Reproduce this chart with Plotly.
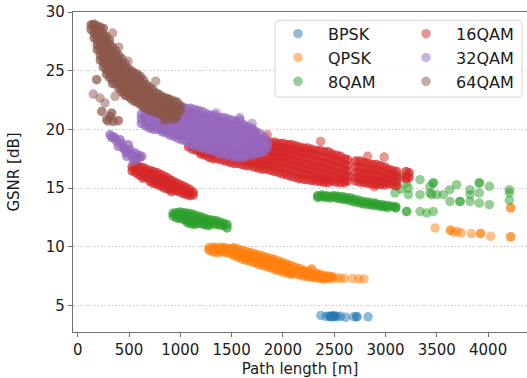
import plotly.graph_objects as go

# ---------------- data ----------------
# dense bands: (x, [y values]) columns ; sparse points: x / y lists
BPSK_X = [2370, 2420, 2450, 2460, 2470, 2480, 2490, 2500, 2510, 2530, 2560, 2610, 2690, 2720, 2720, 2830]
BPSK_Y = [4.14, 4.06, 4.10, 4.04, 4.02, 4.10, 4.09, 4.03, 4.12, 4.04, 4.07, 3.98, 4.03, 4.05, 4.01, 4.02]

QPSK_BAND = [
    (1280, [9.9, 9.7]), (1320, [9.95, 9.75, 9.55]), (1360, [9.9, 9.7, 9.5]),
    (1400, [9.95, 9.75, 9.55]), (1440, [9.9, 9.7, 9.5]), (1480, [9.85, 9.65, 9.45]),
    (1520, [9.9, 9.7, 9.45, 9.25]), (1560, [9.8, 9.55, 9.3, 9.1]), (1600, [9.7, 9.45, 9.2, 8.95]),
    (1640, [9.6, 9.35, 9.1, 8.85]), (1680, [9.5, 9.25, 9.0, 8.75]), (1720, [9.4, 9.15, 8.9, 8.65]),
    (1760, [9.3, 9.05, 8.8, 8.5]), (1800, [9.2, 8.95, 8.7, 8.4]), (1840, [9.1, 8.85, 8.6, 8.3]),
    (1880, [9.0, 8.75, 8.45, 8.2]), (1920, [8.9, 8.6, 8.3, 8.05]), (1960, [8.75, 8.5, 8.2, 7.95]),
    (2000, [8.65, 8.35, 8.05, 7.85]), (2040, [8.5, 8.2, 7.95, 7.75]), (2080, [8.4, 8.1, 7.85, 7.65]),
    (2120, [8.25, 7.95, 7.7]), (2160, [8.15, 7.85, 7.6]), (2200, [8.0, 7.75, 7.5]),
    (2240, [7.9, 7.65, 7.45]), (2280, [8.1, 7.75, 7.5, 7.4]), (2320, [7.75, 7.55, 7.35]),
    (2360, [7.65, 7.45, 7.3]), (2400, [7.55, 7.4, 7.25]), (2440, [7.5, 7.3]), (2480, [7.45, 7.3]),
]
QPSK_X = [2530, 2560, 2600, 2680, 2740, 2790, 3483, 3633, 3633, 3666, 3700, 3738, 3836,
          3927, 3927, 4025, 4220, 4220, 4220, 4220]
QPSK_Y = [7.35, 7.28, 7.3, 7.28, 7.25, 7.25, 11.6, 11.4, 11.4, 11.23, 11.3, 11.18, 11.12,
          11.12, 11.12, 10.89, 10.84, 10.84, 13.31, 13.31]

QAM8_BAND = [
    (930, [12.85, 12.6]), (965, [12.9, 12.65, 12.45]), (1000, [12.95, 12.7, 12.4]),
    (1035, [12.9, 12.6, 12.3]), (1070, [12.85, 12.55, 12.25, 12.05]), (1105, [12.8, 12.5, 12.2, 11.95]),
    (1140, [12.7, 12.4, 12.1, 11.9]), (1175, [12.6, 12.3, 12.0]), (1210, [12.5, 12.2, 11.95]),
    (1245, [12.4, 12.1, 11.85]), (1280, [12.3, 12.0, 11.8]), (1315, [12.25, 11.95]),
    (1350, [12.2, 11.9]), (1385, [12.1, 11.85]), (1420, [12.0, 11.8]), (1455, [11.9, 11.6]),
    (2340, [14.35, 14.2]), (2380, [14.4, 14.25]), (2420, [14.35, 14.2]), (2460, [14.3, 14.15]),
    (2500, [14.35, 14.2]), (2540, [14.3, 14.1]), (2580, [14.25, 14.05]), (2620, [14.2, 14.0]),
    (2660, [14.15, 13.9]), (2700, [14.05, 13.8]), (2740, [13.95, 13.75]), (2780, [13.85, 13.65]),
    (2820, [13.8, 13.6]), (2860, [13.75, 13.55]), (2900, [13.7, 13.5]), (2940, [13.6, 13.45]),
    (2980, [13.55, 13.4]), (3020, [13.5, 13.35]), (3060, [13.45]), (3100, [13.4, 13.3]),
]
QAM8_X = [3092, 3092, 3092, 3150, 3150, 3206, 3206, 3206, 3222, 3222, 3110, 3336, 3336, 3336,
          3433, 3433, 3466, 3466, 3466, 3450, 3401, 3499, 3563, 3628, 3628, 3694, 3726, 3726,
          3824, 3824, 3824, 3914, 3914, 3914, 3914, 4012, 4012, 4207, 4207, 4207]
QAM8_Y = [15.57, 15.2, 14.58, 15.9, 14.9, 15.43, 13.0, 13.0, 14.43, 15.0, 16.1, 15.71, 14.43, 13.0,
          15.14, 14.58, 15.43, 15.43, 13.0, 14.43, 12.87, 14.43, 14.43, 14.86, 13.86, 15.28, 13.86, 13.86,
          14.86, 14.43, 13.86, 15.43, 15.43, 14.58, 13.72, 15.14, 13.58, 14.86, 14.58, 13.95]

QAM16_BAND = [
    (530, [16.8, 16.45]), (565, [16.95, 16.6, 16.3]), (600, [16.8, 16.45, 16.1]),
    (635, [16.75, 16.4, 16.05, 15.85]), (670, [16.6, 16.25, 15.9]), (705, [16.5, 16.15, 15.8, 15.55]),
    (740, [16.4, 16.05, 15.7, 15.4]), (775, [16.3, 15.95, 15.6, 15.3]), (810, [16.15, 15.8, 15.45, 15.15]),
    (845, [16.0, 15.65, 15.3, 15.0]), (880, [15.85, 15.5, 15.15, 14.9]), (915, [15.65, 15.3, 14.95, 14.7]),
    (950, [15.5, 15.15, 14.8]), (985, [15.35, 15.0, 14.7]), (1020, [15.2, 14.85, 14.55]),
    (1055, [15.05, 14.7, 14.45]), (1090, [14.9, 14.6, 14.35]), (1125, [14.65, 14.4]),
    (1080, [18.5]), (1120, [18.6, 18.3]), (1160, [18.5, 18.2]), (1200, [18.5, 18.1, 17.9]),
    (1240, [18.4, 18.0, 17.8]), (1280, [18.4, 18.0, 17.6]), (1320, [18.3, 17.9, 17.5]),
    (1360, [18.3, 17.9, 17.5]), (1400, [18.2, 17.8, 17.4]), (1440, [18.2, 17.8, 17.3]),
    (1480, [18.1, 17.7, 17.2]), (1520, [18.1, 17.7, 17.1]), (1560, [18.0, 17.6, 17.1]),
    (1600, [18.0, 17.5, 17.0]), (1640, [18.2, 17.8, 17.4, 16.9]),
    (1680, [19.1, 18.6, 18.2, 17.8, 17.3, 16.9]), (1720, [19.0, 18.6, 18.2, 17.7, 17.2, 16.8]),
    (1760, [19.1, 18.7, 18.3, 17.9, 17.5, 17.1, 16.7]), (1800, [19.0, 18.6, 18.2, 17.8, 17.4, 17.0, 16.6]),
    (1840, [19.0, 18.6, 18.2, 17.8, 17.4, 17.0, 16.6]), (1880, [18.9, 18.5, 18.1, 17.7, 17.3, 16.9, 16.5]),
    (1920, [18.9, 18.5, 18.1, 17.7, 17.3, 16.9, 16.4]), (1960, [18.8, 18.4, 18.0, 17.6, 17.2, 16.8, 16.3]),
    (2000, [18.8, 18.4, 18.0, 17.6, 17.2, 16.7, 16.2]), (2040, [18.7, 18.3, 17.9, 17.5, 17.1, 16.6, 16.1]),
    (2080, [18.7, 18.3, 17.9, 17.4, 17.0, 16.5, 16.0]), (2120, [18.6, 18.2, 17.8, 17.3, 16.9, 16.4, 15.9]),
    (2160, [18.5, 18.1, 17.7, 17.2, 16.8, 16.3, 15.8]), (2200, [18.4, 18.0, 17.6, 17.1, 16.7, 16.2, 15.75]),
    (2240, [18.4, 18.0, 17.5, 17.0, 16.6, 16.1, 15.7]), (2280, [18.3, 17.9, 17.4, 16.9, 16.5, 16.0, 15.65]),
    (2320, [18.2, 17.8, 17.3, 16.8, 16.4, 15.9, 15.6]), (2360, [18.2, 17.7, 17.2, 16.8, 16.3, 15.9, 15.55]),
    (2400, [18.1, 17.6, 17.1, 16.7, 16.2, 15.8, 15.5]), (2440, [18.1, 17.6, 17.1, 16.6, 16.1, 15.7, 15.45]),
    (2480, [17.9, 17.4, 16.9, 16.5, 16.0, 15.6]), (2520, [17.8, 17.3, 16.8, 16.3, 15.9, 15.5]),
    (2560, [17.7, 17.2, 16.7, 16.2, 15.8, 15.45]), (2600, [17.5, 17.0, 16.6, 16.1, 15.7, 15.45]),
    (2630, [17.4, 16.9, 16.4, 16.0, 15.6]),
    (2710, [17.3, 16.8, 16.3, 15.9, 15.6]), (2750, [17.3, 16.8, 16.3, 15.9, 15.5]),
    (2790, [17.2, 16.7, 16.2, 15.8, 15.45]), (2830, [17.1, 16.6, 16.2, 15.7, 15.4]),
    (2870, [17.0, 16.6, 16.1, 15.7, 15.35]), (2910, [17.0, 16.5, 16.1, 15.7, 15.3]),
    (2950, [16.9, 16.4, 16.0, 15.6, 15.3]), (2990, [16.8, 16.4, 15.9, 15.5, 15.25]),
    (3030, [16.6, 16.2, 15.8, 15.4]), (3070, [16.5, 16.1, 15.7, 15.3]),
    (3110, [16.4, 16.0, 15.6, 15.2]), (3200, [16.4, 16.0, 15.8]), (3230, [16.3, 15.9]),
]
QAM16_X = [2368, 2825, 2987, 2890, 1618, 1716, 1846]
QAM16_Y = [18.97, 17.7, 17.64, 15.09, 20.25, 19.82, 19.54]

QAM32_BAND = [
    (315, [19.54]), (364, [19.26]), (412, [19.12]), (396, [18.55]), (493, [18.69]),
    (510, [18.27]), (478, [17.7]), (558, [17.99]), (575, [17.56]), (624, [17.7]),
    (542, [17.27]), (444, [18.41]), (526, [17.84]), (345, [19.37]), (607, [17.58]),
    (330, [19.3]), (380, [19.0]), (430, [18.8]), (460, [18.3]), (500, [18.0]),
    (540, [17.6]), (590, [17.8]), (470, [18.05]),
    (620, [21.3, 20.9, 20.5]), (660, [21.4, 21.0, 20.6, 20.3]),
    (700, [21.5, 21.1, 20.7, 20.3, 20.1]), (740, [21.5, 21.1, 20.7, 20.3, 20.0]),
    (780, [21.6, 21.2, 20.8, 20.4, 20.0]), (820, [21.6, 21.2, 20.8, 20.4, 20.0, 19.8]),
    (860, [21.7, 21.3, 20.9, 20.5, 20.1, 19.7]), (900, [21.8, 21.4, 21.0, 20.6, 20.2, 19.8, 19.5]),
    (940, [21.8, 21.4, 21.0, 20.6, 20.2, 19.8, 19.4]),
    (980, [21.9, 21.5, 21.1, 20.7, 20.3, 19.9, 19.5, 19.2]),
    (1020, [21.9, 21.5, 21.1, 20.7, 20.3, 19.9, 19.5, 19.1]),
    (1060, [21.8, 21.4, 21.0, 20.6, 20.2, 19.8, 19.4, 19.0]),
    (1100, [21.8, 21.4, 21.0, 20.6, 20.2, 19.8, 19.4, 19.0, 18.7]),
    (1140, [21.7, 21.3, 20.9, 20.5, 20.1, 19.7, 19.3, 18.9, 18.6]),
    (1180, [21.6, 21.2, 20.8, 20.4, 20.0, 19.6, 19.2, 18.8, 18.5]),
    (1220, [21.5, 21.1, 20.7, 20.3, 19.9, 19.5, 19.1, 18.7, 18.4]),
    (1260, [21.3, 20.9, 20.5, 20.1, 19.7, 19.3, 18.9, 18.5, 18.3]),
    (1300, [21.2, 20.8, 20.4, 20.0, 19.6, 19.2, 18.8, 18.4, 18.2]),
    (1340, [21.2, 20.8, 20.4, 20.0, 19.6, 19.2, 18.8, 18.4, 18.1]),
    (1380, [21.0, 20.6, 20.2, 19.8, 19.4, 19.0, 18.6, 18.2, 17.9]),
    (1420, [21.0, 20.6, 20.2, 19.8, 19.4, 19.0, 18.6, 18.2, 17.85]),
    (1460, [20.9, 20.5, 20.1, 19.7, 19.3, 18.9, 18.5, 18.1, 17.8]),
    (1500, [20.8, 20.4, 20.0, 19.6, 19.2, 18.8, 18.4, 18.0, 17.7]),
    (1540, [20.7, 20.3, 19.9, 19.5, 19.1, 18.7, 18.3, 17.9, 17.65]),
    (1580, [20.8, 20.3, 19.9, 19.5, 19.1, 18.7, 18.3, 17.9, 17.6]),
    (1620, [20.4, 20.0, 19.6, 19.2, 18.8, 18.4, 18.0, 17.6]),
    (1660, [20.2, 19.8, 19.4, 19.0, 18.6, 18.2, 17.8]),
    (1700, [20.1, 19.7, 19.3, 18.9, 18.5, 18.1, 17.8]),
    (1740, [19.8, 19.4, 19.0, 18.6, 18.2, 17.9]),
    (1780, [19.6, 19.2, 18.8, 18.4, 18.0]),
    (1820, [19.3, 18.9, 18.5, 18.1]), (1850, [18.9, 18.5]),
]
QAM32_X = [1350, 1580, 1700]
QAM32_Y = [21.4, 21.0, 20.5]

QAM64_BAND = [
    (185, [24.23]), (234, [21.53]), (331, [21.39]), (396, [20.74]), (347, [20.68]),
    (315, [21.1]), (283, [20.82]),
    (130, [28.9, 28.5]), (160, [28.95, 28.6, 28.2, 27.8]),
    (190, [28.8, 28.4, 28.0, 27.6, 27.2, 26.8]),
    (220, [28.7, 28.3, 27.9, 27.5, 27.1, 26.7, 26.3, 25.9]),
    (250, [28.6, 28.1, 27.7, 27.3, 26.9, 26.5, 26.1, 25.7, 25.3]),
    (280, [27.9, 27.5, 27.1, 26.7, 26.3, 25.9, 25.5, 25.1, 24.7]),
    (310, [27.6, 27.2, 26.8, 26.4, 26.0, 25.6, 25.2, 24.8, 24.4]),
    (340, [27.0, 26.6, 26.2, 25.8, 25.4, 25.0, 24.6, 24.2, 23.9]),
    (370, [26.7, 26.3, 25.9, 25.5, 25.1, 24.7, 24.3, 23.9]),
    (400, [26.3, 25.9, 25.5, 25.1, 24.7, 24.3, 23.9, 23.5]),
    (430, [26.0, 25.6, 25.2, 24.8, 24.4, 24.0, 23.6, 23.2]),
    (460, [25.6, 25.2, 24.8, 24.4, 24.0, 23.6, 23.2, 22.9]),
    (490, [25.2, 24.8, 24.4, 24.0, 23.6, 23.2, 22.8]),
    (520, [25.0, 24.6, 24.2, 23.8, 23.4, 23.0, 22.6]),
    (550, [24.8, 24.4, 24.0, 23.6, 23.2, 22.8, 22.4]),
    (580, [24.7, 24.3, 23.9, 23.5, 23.1, 22.7, 22.3]),
    (610, [24.5, 24.1, 23.7, 23.3, 22.9, 22.5, 22.1]),
    (640, [24.2, 23.8, 23.4, 23.0, 22.6, 22.2, 21.9]),
    (670, [23.8, 23.4, 23.0, 22.6, 22.2, 21.8]),
    (700, [23.6, 23.2, 22.8, 22.4, 22.0, 21.6]),
    (730, [23.4, 23.0, 22.6, 22.2, 21.8, 21.5]),
    (760, [23.1, 22.7, 22.3, 21.9, 21.5]),
    (790, [23.0, 22.6, 22.2, 21.8, 21.4]),
    (820, [22.8, 22.4, 22.0, 21.6, 21.2]),
    (850, [22.7, 22.3, 21.9, 21.5, 21.1, 20.8]),
    (880, [22.6, 22.2, 21.8, 21.4, 21.0]),
    (910, [22.5, 22.1, 21.7, 21.3, 20.9]),
    (940, [22.4, 22.0, 21.6, 21.2, 20.9]),
    (970, [22.3, 21.9, 21.5, 21.1]),
    (1000, [22.0, 21.6]),
]
QAM64_X = [152, 217, 266, 298, 364, 340, 400, 490, 760, 150]
QAM64_Y = [23.01, 22.67, 22.25, 20.68, 22.81, 28.2, 27.0, 25.8, 24.1, 28.9]

SERIES = ["BPSK", "QPSK", "8QAM", "16QAM", "32QAM", "64QAM"]
COLORS = ["#1f77b4", "#ff7f0e", "#2ca02c", "#d62728", "#9467bd", "#8c564b"]
X_TICKS = [0, 500, 1000, 1500, 2000, 2500, 3000, 3500, 4000]
Y_TICKS = [5, 10, 15, 20, 25, 30]


def expand(cols):
    xs, ys = [], []
    for x, yl in cols:
        for y in yl:
            xs.append(x)
            ys.append(y)
    return xs, ys


bands = [([], []), expand(QPSK_BAND), expand(QAM8_BAND), expand(QAM16_BAND),
         expand(QAM32_BAND), expand(QAM64_BAND)]
sparse = [(BPSK_X, BPSK_Y), (QPSK_X, QPSK_Y), (QAM8_X, QAM8_Y), (QAM16_X, QAM16_Y),
          (QAM32_X, QAM32_Y), (QAM64_X, QAM64_Y)]

FONT = "DejaVu Sans"
fig = go.Figure()
for i, name in enumerate(SERIES):
    color = COLORS[i]
    leg = "legend" if i < 3 else "legend2"
    bx, by = bands[i]
    if bx:
        fig.add_trace(go.Scatter(
            x=bx, y=by, mode="markers", name=name, showlegend=False,
            marker=dict(color=color, size=9.5, opacity=0.72, line=dict(width=0)),
            legend=leg, legendgroup=name))
    sx, sy = sparse[i]
    fig.add_trace(go.Scatter(
        x=sx, y=sy, mode="markers", name=name,
        marker=dict(color=color, size=9.5, opacity=0.5, line=dict(width=0)),
        legend=leg, legendgroup=name))

# legend frame (rounded box)
x0, x1, y0, y1 = 0.445, 0.989, 0.734, 0.974
rx, ry = 0.009, 0.0125
path = (f"M {x0+rx},{y0} L {x1-rx},{y0} Q {x1},{y0} {x1},{y0+ry} "
        f"L {x1},{y1-ry} Q {x1},{y1} {x1-rx},{y1} L {x0+rx},{y1} "
        f"Q {x0},{y1} {x0},{y1-ry} L {x0},{y0+ry} Q {x0},{y0} {x0+rx},{y0} Z")
fig.add_shape(type="path", path=path, xref="paper", yref="paper",
              line=dict(color="#d4d4d4", width=1), fillcolor="rgba(255,255,255,0.8)",
              layer="above")

leg_common = dict(font=dict(family=FONT, size=16, color="#1a1a1a"),
                  bgcolor="rgba(0,0,0,0)", borderwidth=0, itemwidth=50,
                  tracegroupgap=0, yanchor="top", xanchor="left", itemclick=False)

fig.update_layout(
    width=527, height=378,
    margin=dict(l=73, r=0, t=12, b=46),
    paper_bgcolor="white", plot_bgcolor="white",
    font=dict(family=FONT, size=14.5, color="#1a1a1a"),
    legend=dict(x=0.4295, y=0.985, **leg_common),
    legend2=dict(x=0.7115, y=0.985, **leg_common),
    xaxis=dict(range=[-46, 4379], tickvals=X_TICKS, showgrid=False, zeroline=False,
               showline=True, linecolor="#707070", linewidth=1.2, mirror=True,
               ticks="outside", ticklen=4, tickcolor="#707070", tickwidth=1,
               tickfont=dict(size=15),
               title=dict(text="Path length [m]", font=dict(size=15), standoff=5)),
    yaxis=dict(range=[2.73, 30], tickvals=Y_TICKS, showgrid=True, gridcolor="#c8c8c8",
               griddash="1.5px,2px", gridwidth=0.8, zeroline=False,
               showline=True, linecolor="#707070", linewidth=1.2,
               ticks="outside", ticklen=4, tickcolor="#707070", tickwidth=1,
               tickfont=dict(size=15),
               title=dict(text="GSNR [dB]", font=dict(size=15), standoff=22)),
    showlegend=True,
)

fig.write_html("out.html", post_script="document.body.style.margin='0';",
               config={"displayModeBar": False})
